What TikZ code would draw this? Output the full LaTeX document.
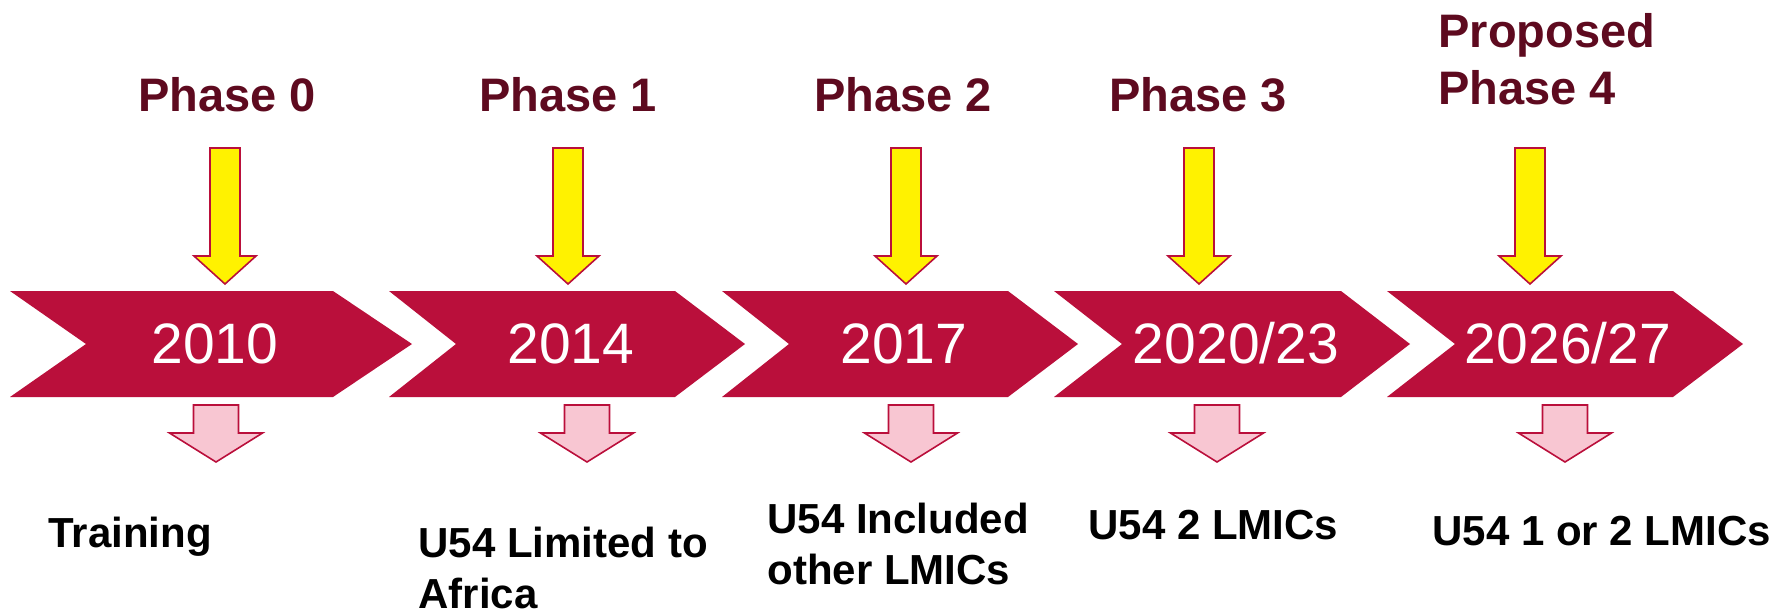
\documentclass[tikz,border=0pt]{standalone}
\usepackage{fontspec}
\setmainfont{Liberation Sans}
\definecolor{crimson}{HTML}{BA0F3B}
\definecolor{maroon}{HTML}{5E0A1F}
\definecolor{blush}{HTML}{F8C6D2}
\begin{document}
\begin{tikzpicture}[x=0.5pt,y=-0.5pt,inner sep=0pt,
	phase/.style={text=maroon,font=\fontsize{23.5}{28.5}\selectfont\bfseries,align=left},
	year/.style={text=white,font=\fontsize{28.5}{34}\selectfont},
	outcome/.style={font=\fontsize{21}{25.5}\selectfont\bfseries,align=left},
	inarrow/.style={fill=yellow,draw=crimson,line width=0.8pt},
	outarrow/.style={fill=blush,draw=crimson,line width=0.8pt}]
	\useasboundingbox (0,0) rectangle (1790,612);
	% chevrons
	\foreach \l/\n/\b/\t in {10/86/333/412, 389/456/675/745, 722/789/1008/1078,
		1054/1122/1341/1410, 1387/1455/1673/1743}{
		\fill[crimson] (\l,291)--(\b,291)--(\t,344)--(\b,397)--(\l,397)--(\n,344)--cycle;
	}
	\foreach \x/\name/\t in {215/yr0/2010, 571/yr1/2014, 904/yr2/2017, 1236/yr3/2020\slash23,
		1568/yr4/2026\slash27}{
		\node[year,anchor=base] (\name) at (\x,363) {\t};
	}
	% arrows in and out
	\foreach \x in {225,568,906,1199,1530}{
		\draw[inarrow] (\x-15,148)--(\x+15,148)--(\x+15,256)--(\x+31,256)--(\x,284)
			--(\x-31,256)--(\x-15,256)--cycle;
	}
	\foreach \x in {216,587,911,1217,1565}{
		\draw[outarrow] (\x-22.5,405)--(\x+22.5,405)--(\x+22.5,433)--(\x+46.5,433)--(\x,462)
			--(\x-46.5,433)--(\x-22.5,433)--cycle;
	}
	% labels (base anchor sits on the last line)
	\foreach \x/\name/\t in {227/ph0/Phase 0, 568/ph1/Phase 1, 903/ph2/Phase 2, 1198/ph3/Phase 3}{
		\node[phase,anchor=base] (\name) at (\x,111) {\t};
	}
	\node[phase,anchor=base west] (ph4) at (1438,104) {Proposed\\Phase 4};
	\node[outcome,anchor=base west] (out0) at (48,547) {Training};
	\node[outcome,anchor=base west] (out1) at (418,608) {U54 Limited to\\Africa};
	\node[outcome,anchor=base west] (out2) at (767,584) {U54 Included\\other LMICs};
	\node[outcome,anchor=base west] (out3) at (1088,539) {U54 2 LMICs};
	\node[outcome,anchor=base west] (out4) at (1432,545) {U54 1 or 2 LMICs};
\end{tikzpicture}
\end{document}
